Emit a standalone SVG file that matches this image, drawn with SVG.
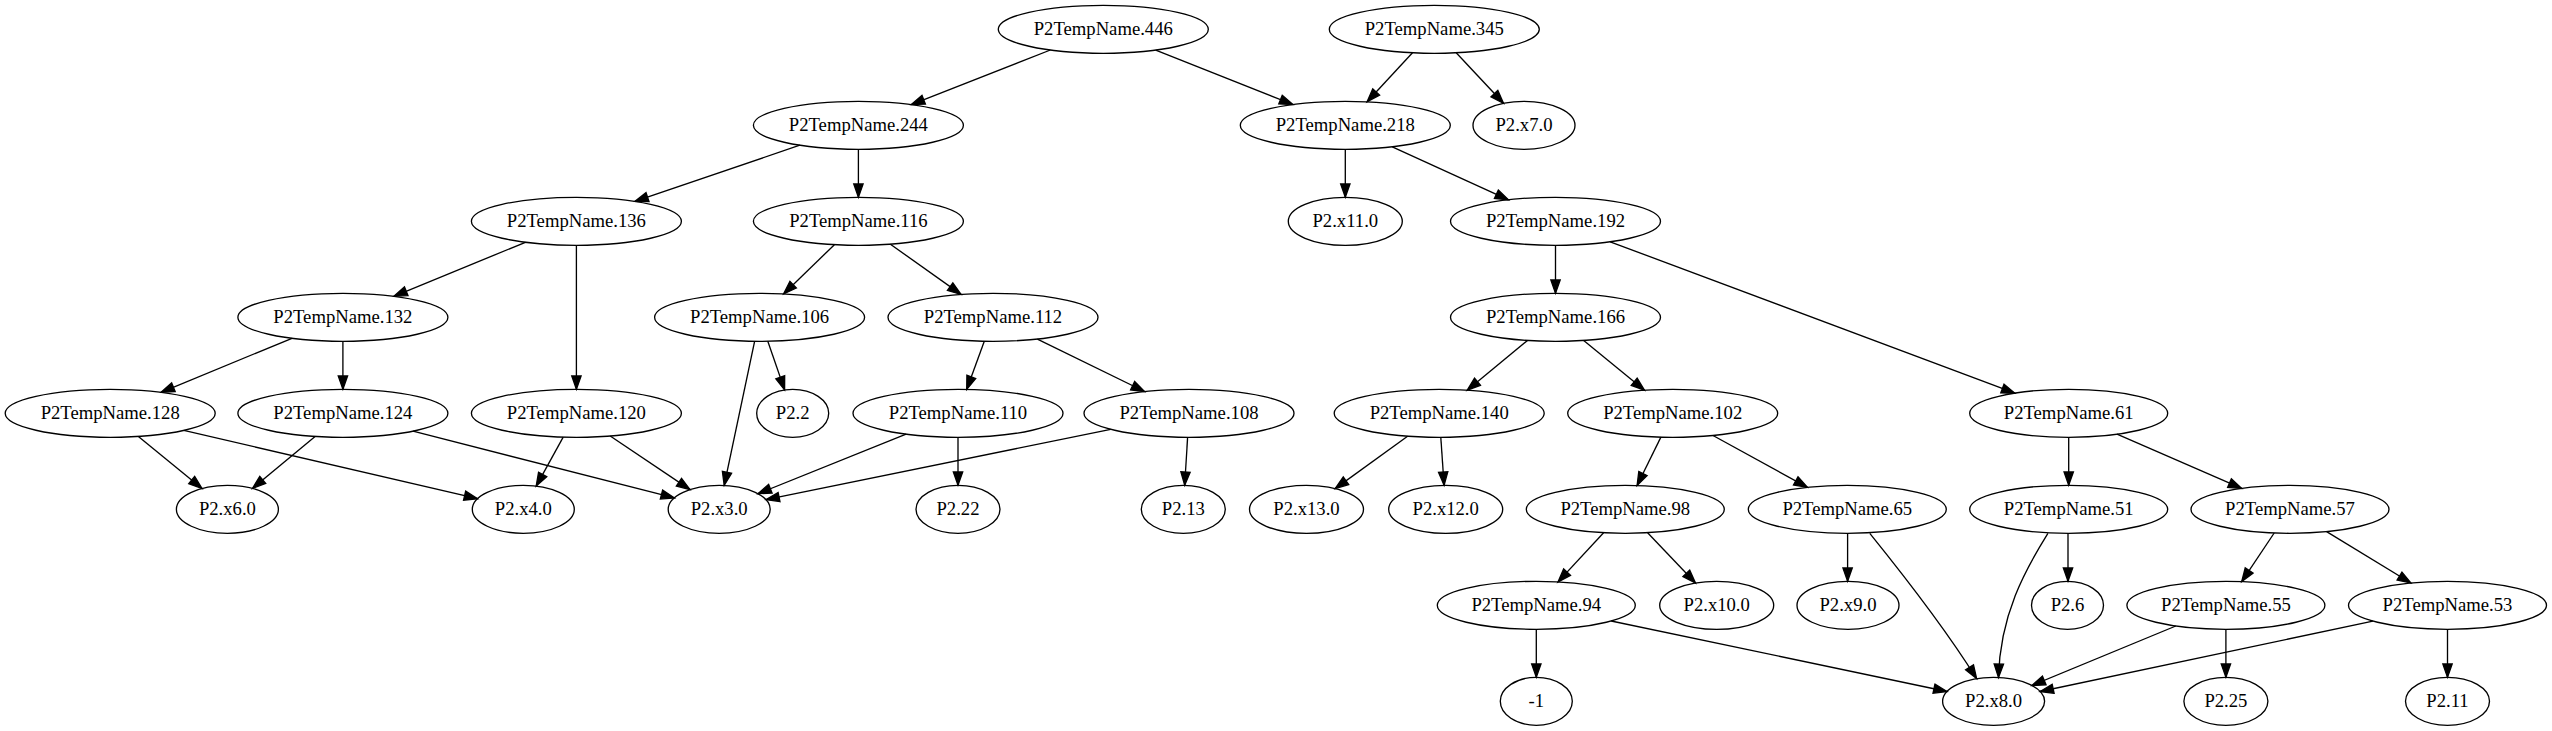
<svg xmlns="http://www.w3.org/2000/svg" width="2552" height="731" viewBox="0 0 2552 731">
<style>
.n ellipse{fill:none;stroke:#000;stroke-width:1.33}
.n text{font-family:"Liberation Serif","Times New Roman",serif;font-size:18.67px;text-anchor:middle;fill:#000}
.e path{fill:none;stroke:#000;stroke-width:1.33;marker-end:url(#a)}
</style>
<defs>
<marker id="a" markerUnits="userSpaceOnUse" viewBox="0 0 14 10" markerWidth="14" markerHeight="10" refX="13.33" refY="4.67" orient="auto" overflow="visible">
<path d="M0,0 L13.33,4.67 L0,9.33 z" fill="#000" stroke="#000" stroke-width="1.33" stroke-linejoin="miter"/>
</marker>
</defs>
<rect width="2552" height="731" fill="#fff"/>
<g id="edges" class="e">
<path d="M1050.4,50 L911.3,104.6"/>
<path d="M1155.7,50.1 L1292.9,104.5"/>
<path d="M1412.5,52.8 L1367.1,101.8"/>
<path d="M1456.2,52.8 L1503.5,103.3"/>
<path d="M799.9,145.2 L634.9,201.4"/>
<path d="M858.4,149.3 L858.4,197.3"/>
<path d="M1345.3,149.3 L1345.3,197.3"/>
<path d="M1392.3,146.8 L1508.5,199.8"/>
<path d="M525.4,242.3 L393.9,296.3"/>
<path d="M576.4,245.3 L576.4,389.3"/>
<path d="M834.4,244.7 L783.6,293.9"/>
<path d="M890.4,244.2 L961,294.4"/>
<path d="M1555.5,245.3 L1555.5,293.3"/>
<path d="M1610.2,241.8 L2014.9,393.2"/>
<path d="M292,338.3 L161.1,392.3"/>
<path d="M342.9,341.3 L342.9,389.3"/>
<path d="M754.6,341.3 L724.2,485.4"/>
<path d="M767.8,341.2 L784.6,389.9"/>
<path d="M984.3,341.2 L966.7,389.4"/>
<path d="M1037.4,339.1 L1144.6,391.5"/>
<path d="M1527.5,340.4 L1467.2,390.2"/>
<path d="M1583.7,340.4 L1644.5,390.2"/>
<path d="M138.4,436.4 L202,488.5"/>
<path d="M183.8,430.4 L477.6,498.7"/>
<path d="M315.1,436.4 L252.5,488.4"/>
<path d="M413,431.2 L674.4,497.9"/>
<path d="M563.2,437.1 L536.2,486.1"/>
<path d="M610.2,436 L690,489.6"/>
<path d="M906.1,434.2 L758,493.7"/>
<path d="M958,437.3 L958,485.3"/>
<path d="M1110.7,429.3 L766,499.7"/>
<path d="M1187.6,437.3 L1184.7,485.3"/>
<path d="M1407.6,436.2 L1335.2,488.6"/>
<path d="M1440.8,437.3 L1444.1,485.3"/>
<path d="M1660.9,437.1 L1637.1,485.5"/>
<path d="M1713,435.5 L1807.4,487.3"/>
<path d="M2068.7,437.3 L2068.7,485.3"/>
<path d="M2117,434.2 L2241.7,488.4"/>
<path d="M1603.6,532.7 L1558,581.9"/>
<path d="M1647.6,532.7 L1695.5,583"/>
<path d="M1847.6,533.3 L1847.6,581.3"/>
<path d="M1869.8,533.3 C1893,562 1945,628 1976.6,678.6"/>
<path d="M2068,533.3 L2068,581.3"/>
<path d="M2047.9,533.3 C2025,570 2000,615 1998.5,677.4"/>
<path d="M2274.2,533 L2241.7,581.6"/>
<path d="M2326.6,531.6 L2410.9,583"/>
<path d="M1536.3,629.3 L1536.3,677.3"/>
<path d="M1611.2,621 L1947,691.5"/>
<path d="M2175.8,626 L2031.9,685.5"/>
<path d="M2225.9,629.3 L2225.9,677.3"/>
<path d="M2372.9,621.1 L2040.1,691.5"/>
<path d="M2447.5,629.3 L2447.5,677.3"/>
</g>
<g id="n446" class="n"><ellipse cx="1103.3" cy="29.3" rx="105" ry="24"/><text x="1103.3" y="34.9">P2TempName.446</text></g>
<g id="n345" class="n"><ellipse cx="1434.3" cy="29.3" rx="105" ry="24"/><text x="1434.3" y="34.9">P2TempName.345</text></g>
<g id="n244" class="n"><ellipse cx="858.4" cy="125.3" rx="105" ry="24"/><text x="858.4" y="130.9">P2TempName.244</text></g>
<g id="n218" class="n"><ellipse cx="1345.3" cy="125.3" rx="105" ry="24"/><text x="1345.3" y="130.9">P2TempName.218</text></g>
<g id="x7" class="n"><ellipse cx="1524" cy="125.3" rx="51" ry="24"/><text x="1524" y="130.9">P2.x7.0</text></g>
<g id="n136" class="n"><ellipse cx="576.4" cy="221.3" rx="105" ry="24"/><text x="576.4" y="226.9">P2TempName.136</text></g>
<g id="n116" class="n"><ellipse cx="858.4" cy="221.3" rx="105" ry="24"/><text x="858.4" y="226.9">P2TempName.116</text></g>
<g id="x11" class="n"><ellipse cx="1345.3" cy="221.3" rx="57" ry="24"/><text x="1345.3" y="226.9">P2.x11.0</text></g>
<g id="n192" class="n"><ellipse cx="1555.5" cy="221.3" rx="105" ry="24"/><text x="1555.5" y="226.9">P2TempName.192</text></g>
<g id="n132" class="n"><ellipse cx="342.9" cy="317.3" rx="105" ry="24"/><text x="342.9" y="322.9">P2TempName.132</text></g>
<g id="n106" class="n"><ellipse cx="759.6" cy="317.3" rx="105" ry="24"/><text x="759.6" y="322.9">P2TempName.106</text></g>
<g id="n112" class="n"><ellipse cx="993" cy="317.3" rx="105" ry="24"/><text x="993" y="322.9">P2TempName.112</text></g>
<g id="n166" class="n"><ellipse cx="1555.5" cy="317.3" rx="105" ry="24"/><text x="1555.5" y="322.9">P2TempName.166</text></g>
<g id="n128" class="n"><ellipse cx="110.2" cy="413.3" rx="105" ry="24"/><text x="110.2" y="418.9">P2TempName.128</text></g>
<g id="n124" class="n"><ellipse cx="342.9" cy="413.3" rx="105" ry="24"/><text x="342.9" y="418.9">P2TempName.124</text></g>
<g id="n120" class="n"><ellipse cx="576.4" cy="413.3" rx="105" ry="24"/><text x="576.4" y="418.9">P2TempName.120</text></g>
<g id="p2_2" class="n"><ellipse cx="792.7" cy="413.3" rx="36" ry="24"/><text x="792.7" y="418.9">P2.2</text></g>
<g id="n110" class="n"><ellipse cx="958" cy="413.3" rx="105" ry="24"/><text x="958" y="418.9">P2TempName.110</text></g>
<g id="n108" class="n"><ellipse cx="1189" cy="413.3" rx="105" ry="24"/><text x="1189" y="418.9">P2TempName.108</text></g>
<g id="n140" class="n"><ellipse cx="1439.2" cy="413.3" rx="105" ry="24"/><text x="1439.2" y="418.9">P2TempName.140</text></g>
<g id="n102" class="n"><ellipse cx="1672.7" cy="413.3" rx="105" ry="24"/><text x="1672.7" y="418.9">P2TempName.102</text></g>
<g id="n61" class="n"><ellipse cx="2068.7" cy="413.3" rx="99" ry="24"/><text x="2068.7" y="418.9">P2TempName.61</text></g>
<g id="x6" class="n"><ellipse cx="227.4" cy="509.3" rx="51" ry="24"/><text x="227.4" y="514.9">P2.x6.0</text></g>
<g id="x4" class="n"><ellipse cx="523.3" cy="509.3" rx="51" ry="24"/><text x="523.3" y="514.9">P2.x4.0</text></g>
<g id="x3" class="n"><ellipse cx="719.2" cy="509.3" rx="51" ry="24"/><text x="719.2" y="514.9">P2.x3.0</text></g>
<g id="p2_22" class="n"><ellipse cx="958" cy="509.3" rx="42" ry="24"/><text x="958" y="514.9">P2.22</text></g>
<g id="p2_13" class="n"><ellipse cx="1183.3" cy="509.3" rx="42" ry="24"/><text x="1183.3" y="514.9">P2.13</text></g>
<g id="x13" class="n"><ellipse cx="1306.5" cy="509.3" rx="57" ry="24"/><text x="1306.5" y="514.9">P2.x13.0</text></g>
<g id="x12" class="n"><ellipse cx="1445.7" cy="509.3" rx="57" ry="24"/><text x="1445.7" y="514.9">P2.x12.0</text></g>
<g id="n98" class="n"><ellipse cx="1625.3" cy="509.3" rx="99" ry="24"/><text x="1625.3" y="514.9">P2TempName.98</text></g>
<g id="n65" class="n"><ellipse cx="1847.3" cy="509.3" rx="99" ry="24"/><text x="1847.3" y="514.9">P2TempName.65</text></g>
<g id="n51" class="n"><ellipse cx="2068.7" cy="509.3" rx="99" ry="24"/><text x="2068.7" y="514.9">P2TempName.51</text></g>
<g id="n57" class="n"><ellipse cx="2290" cy="509.3" rx="99" ry="24"/><text x="2290" y="514.9">P2TempName.57</text></g>
<g id="n94" class="n"><ellipse cx="1536.3" cy="605.3" rx="99" ry="24"/><text x="1536.3" y="610.9">P2TempName.94</text></g>
<g id="x10" class="n"><ellipse cx="1716.7" cy="605.3" rx="57" ry="24"/><text x="1716.7" y="610.9">P2.x10.0</text></g>
<g id="x9" class="n"><ellipse cx="1848" cy="605.3" rx="51" ry="24"/><text x="1848" y="610.9">P2.x9.0</text></g>
<g id="p2_6" class="n"><ellipse cx="2067.5" cy="605.3" rx="36" ry="24"/><text x="2067.5" y="610.9">P2.6</text></g>
<g id="n55" class="n"><ellipse cx="2225.9" cy="605.3" rx="99" ry="24"/><text x="2225.9" y="610.9">P2TempName.55</text></g>
<g id="n53" class="n"><ellipse cx="2447.5" cy="605.3" rx="99" ry="24"/><text x="2447.5" y="610.9">P2TempName.53</text></g>
<g id="m1" class="n"><ellipse cx="1536.3" cy="701.3" rx="36" ry="24"/><text x="1536.3" y="706.9">-1</text></g>
<g id="x8" class="n"><ellipse cx="1993.6" cy="701.3" rx="51" ry="24"/><text x="1993.6" y="706.9">P2.x8.0</text></g>
<g id="p2_25" class="n"><ellipse cx="2225.9" cy="701.3" rx="42" ry="24"/><text x="2225.9" y="706.9">P2.25</text></g>
<g id="p2_11" class="n"><ellipse cx="2447.5" cy="701.3" rx="42" ry="24"/><text x="2447.5" y="706.9">P2.11</text></g>
</svg>
